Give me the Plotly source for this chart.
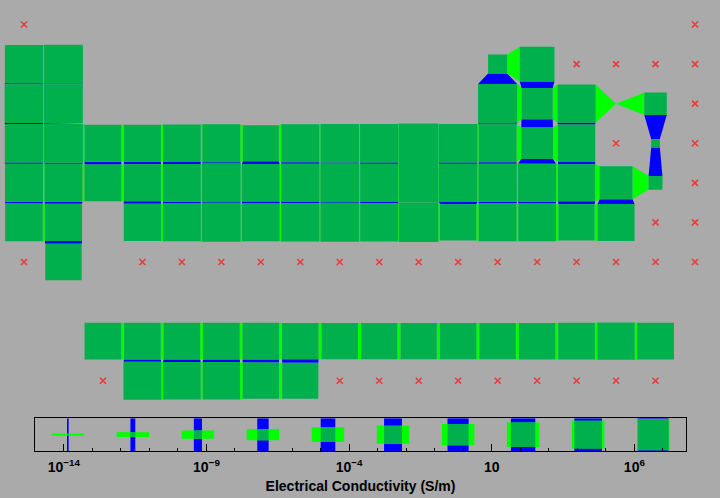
import math
import plotly.graph_objects as go

# ---------------- data: electrical conductivity (S/m), None = no data ----------------
P1_SYMBOLS = ["H", "He"]
P1_GROUPS = [1, 18]
P1_SIGMA = [None, None]

P2_SYMBOLS = ["Li", "Be", "B", "C", "N", "O", "F", "Ne"]
P2_GROUPS = [1, 2, 13, 14, 15, 16, 17, 18]
P2_SIGMA = [1.1e7, 2.5e7, 1e-4, 1e5, None, None, None, None]

P3_SYMBOLS = ["Na", "Mg", "Al", "Si", "P", "S", "Cl", "Ar"]
P3_GROUPS = [1, 2, 13, 14, 15, 16, 17, 18]
P3_SIGMA = [2.1e7, 2.3e7, 3.8e7, 1e3, 1e7, 1e-15, 1e-2, None]

P4_SYMBOLS = ["K", "Ca", "Sc", "Ti", "V", "Cr", "Mn", "Fe", "Co", "Ni", "Cu", "Zn",
              "Ga", "Ge", "As", "Se", "Br", "Kr"]
P4_GROUPS = list(range(1, 19))
P4_SIGMA = [1.4e7, 2.9e7, 1.8e6, 2.5e6, 5e6, 7.9e6, 6.2e5, 1e7, 1.7e7, 1.4e7, 5.9e7, 1.7e7,
            7.1e6, 2e3, 3.3e6, None, 1e-10, None]

P5_SYMBOLS = ["Rb", "Sr", "Y", "Zr", "Nb", "Mo", "Tc", "Ru", "Rh", "Pd", "Ag", "Cd",
              "In", "Sn", "Sb", "Te", "I", "Xe"]
P5_GROUPS = list(range(1, 19))
P5_SIGMA = [8.3e6, 7.7e6, 1.8e6, 2.4e6, 6.7e6, 2e7, 5e6, 1.4e7, 2.3e7, 1e7, 6.2e7, 1.4e7,
            1.2e7, 9.1e6, 2.5e6, 1e4, 1e-7, None]

P6_SYMBOLS = ["Cs", "Ba", "Hf", "Ta", "W", "Re", "Os", "Ir", "Pt", "Au", "Hg",
              "Tl", "Pb", "Bi", "Po", "At", "Rn"]
P6_GROUPS = [1, 2] + list(range(4, 19))
P6_SIGMA = [5e6, 2.9e6, 3.3e6, 7.7e6, 2e7, 5.6e6, 1.2e7, 2.1e7, 9.4e6, 4.5e7, 1e6,
            6.7e6, 4.8e6, 7.7e5, 2.3e6, None, None]

P7_SYMBOLS = ["Fr", "Ra", "Rf", "Db", "Sg", "Bh", "Hs", "Mt", "Ds", "Rg", "Cn",
              "Nh", "Fl", "Mc", "Lv", "Ts", "Og"]
P7_GROUPS = [1, 2] + list(range(4, 19))
P7_SIGMA = [None, 1e6] + [None] * 15

LAN_SYMBOLS = ["La", "Ce", "Pr", "Nd", "Pm", "Sm", "Eu", "Gd", "Tb", "Dy", "Ho", "Er",
               "Tm", "Yb", "Lu"]
LAN_GROUPS = list(range(3, 18))
LAN_SIGMA = [1.6e6, 1.4e6, 1.4e6, 1.6e6, 1.3e6, 1.1e6, 1.1e6, 7.7e5, 8.3e5, 1.1e6, 1.1e6,
             1.2e6, 1.4e6, 3.5e6, 1.8e6]

ACT_SYMBOLS = ["Ac", "Th", "Pa", "U", "Np", "Pu", "Am", "Cm", "Bk", "Cf", "Es", "Fm",
               "Md", "No", "Lr"]
ACT_GROUPS = list(range(3, 18))
ACT_SIGMA = [None, 6.7e6, 5.6e6, 3.6e6, 8.3e5, 6.7e5] + [None] * 9

# legend sample conductivities (log10 S/m) and axis ticks
LEGEND_LOG = [-13.86, -11.58, -9.30, -7.02, -4.74, -2.46, -0.18, 2.10, 4.38, 6.66]
TICK_VALS = [-14, -9, -4, 1, 6]
TICK_TEXT = ["10<sup>\u221214</sup>", "10<sup>\u22129</sup>", "10<sup>\u22124</sup>",
             "10", "10<sup>6</sup>"]
AXIS_TITLE = "Electrical Conductivity (S/m)"

# ---------------- style / layout ----------------
W, H = 720, 498
BG = "#AAAAAA"
SQ_COLOR = "#00B04C"
H_LINK = "#00FF00"
V_LINK = "#0000FF"
MISS_COLOR = "#EA3A3A"
FONT = "Liberation Sans"

LOG_MIN = -15.0
LOG_MAX = math.log10(6.3e7)

COL_PX0, COL_PITCH = 24.0, 39.47
ROW_PX0, ROW_PITCH = 24.5, 39.58
FULL_PX = 39.5

rows = [
    (1, P1_SYMBOLS, P1_GROUPS, P1_SIGMA),
    (2, P2_SYMBOLS, P2_GROUPS, P2_SIGMA),
    (3, P3_SYMBOLS, P3_GROUPS, P3_SIGMA),
    (4, P4_SYMBOLS, P4_GROUPS, P4_SIGMA),
    (5, P5_SYMBOLS, P5_GROUPS, P5_SIGMA),
    (6, P6_SYMBOLS, P6_GROUPS, P6_SIGMA),
    (7, P7_SYMBOLS, P7_GROUPS, P7_SIGMA),
    (9, LAN_SYMBOLS, LAN_GROUPS, LAN_SIGMA),
    (10, ACT_SYMBOLS, ACT_GROUPS, ACT_SIGMA),
]


def frac(sigma):
    f = (math.log10(sigma) - LOG_MIN) / (LOG_MAX - LOG_MIN)
    return min(max(f, 0.0), 1.0)


cells = {}
missing = []
for r, syms, groups, sig in rows:
    for s, g, v in zip(syms, groups, sig):
        if v is None:
            missing.append((g, r, s))
        else:
            f = frac(v)
            hx = f * FULL_PX / 2 / COL_PITCH
            hy = f * FULL_PX / 2 / ROW_PITCH
            cells[(g, r)] = (hx, hy, s)

sqx, sqy = [], []
hlx, hly = [], []
vlx, vly = [], []
for (g, r), (hx, hy, s) in cells.items():
    sqx += [g - hx, g + hx, g + hx, g - hx, g - hx, None]
    sqy += [r - hy, r - hy, r + hy, r + hy, r - hy, None]
    if (g + 1, r) in cells:
        hx2, hy2, _ = cells[(g + 1, r)]
        hlx += [g + hx, g + 1 - hx2, g + 1 - hx2, g + hx, g + hx, None]
        hly += [r - hy, r - hy2, r + hy2, r + hy, r - hy, None]
    if (g, r + 1) in cells:
        hx2, hy2, _ = cells[(g, r + 1)]
        vlx += [g - hx, g + hx, g + hx2, g - hx2, g - hx, None]
        vly += [r + hy, r + hy, r + 1 - hy2, r + 1 - hy2, r + hy, None]

fig = go.Figure()


def poly(x, y, color, xa="x", ya="y"):
    fig.add_trace(go.Scatter(x=x, y=y, mode="lines", fill="toself", fillcolor=color,
                             line=dict(width=0, color=color), hoverinfo="skip",
                             showlegend=False, xaxis=xa, yaxis=ya))


poly(vlx, vly, V_LINK)
poly(hlx, hly, H_LINK)
poly(sqx, sqy, SQ_COLOR)

fig.add_trace(go.Scatter(
    x=[m[0] for m in missing], y=[m[1] for m in missing], text=[m[2] for m in missing],
    mode="markers", marker=dict(symbol="x-thin", size=6, line=dict(width=1.6, color=MISS_COLOR)),
    hoverinfo="text", showlegend=False))

# ---------------- legend strip ----------------
BOX_L, BOX_R, BOX_T, BOX_B = 35.3, 685.7, 418.3, 451.0
UNIT_PX = 32.5
px_per_dec = (BOX_R - BOX_L) / (LOG_MAX - LOG_MIN)
unit_dec = UNIT_PX / px_per_dec

lbx, lby, lgx, lgy, lsx, lsy = [], [], [], [], [], []
for v in LEGEND_LOG:
    f = frac(10 ** v)
    hw = f * unit_dec / 2
    hh = f / 2
    lbx += [v - hw, v + hw, v + hw, v - hw, v - hw, None]
    lby += [-0.5, -0.5, 0.5, 0.5, -0.5, None]
    lgx += [v - unit_dec / 2, v + unit_dec / 2, v + unit_dec / 2, v - unit_dec / 2, v - unit_dec / 2, None]
    lgy += [-hh, -hh, hh, hh, -hh, None]
    lsx += [v - hw, v + hw, v + hw, v - hw, v - hw, None]
    lsy += [-hh, -hh, hh, hh, -hh, None]

poly(lbx, lby, V_LINK, "x2", "y2")
poly(lgx, lgy, H_LINK, "x2", "y2")
poly(lsx, lsy, SQ_COLOR, "x2", "y2")

fig.update_layout(
    width=W, height=H, margin=dict(l=0, r=0, t=0, b=0),
    paper_bgcolor=BG, plot_bgcolor=BG, showlegend=False,
    xaxis=dict(domain=[0, 1], range=[1 - COL_PX0 / COL_PITCH, 1 + (W - COL_PX0) / COL_PITCH],
               visible=False, fixedrange=True),
    yaxis=dict(domain=[0, 1], range=[1 + (H - ROW_PX0) / ROW_PITCH, 1 - ROW_PX0 / ROW_PITCH],
               visible=False, fixedrange=True),
    xaxis2=dict(domain=[BOX_L / W, BOX_R / W], anchor="y2", range=[LOG_MIN, LOG_MAX],
                showgrid=False, zeroline=False, showline=True, mirror=True,
                linecolor="black", linewidth=1,
                tickmode="array", tickvals=TICK_VALS, ticktext=TICK_TEXT,
                ticks="inside", ticklen=7, tickwidth=1, tickcolor="black",
                ticklabelstandoff=3,
                minor=dict(tickmode="linear", tick0=0, dtick=1, ticks="inside", ticklen=3.5,
                           tickwidth=1, tickcolor="black", showgrid=False),
                tickfont=dict(family=FONT, size=14, color="black", weight="bold"),
                title=dict(text=AXIS_TITLE, standoff=7,
                           font=dict(family=FONT, size=14, color="black", weight="bold"))),
    yaxis2=dict(domain=[1 - BOX_B / H, 1 - BOX_T / H], anchor="x2", range=[-0.5, 0.5],
                showgrid=False, zeroline=False, showline=True, mirror=True,
                linecolor="black", linewidth=1, showticklabels=False, ticks=""),
)

fig.write_html("out.html")
